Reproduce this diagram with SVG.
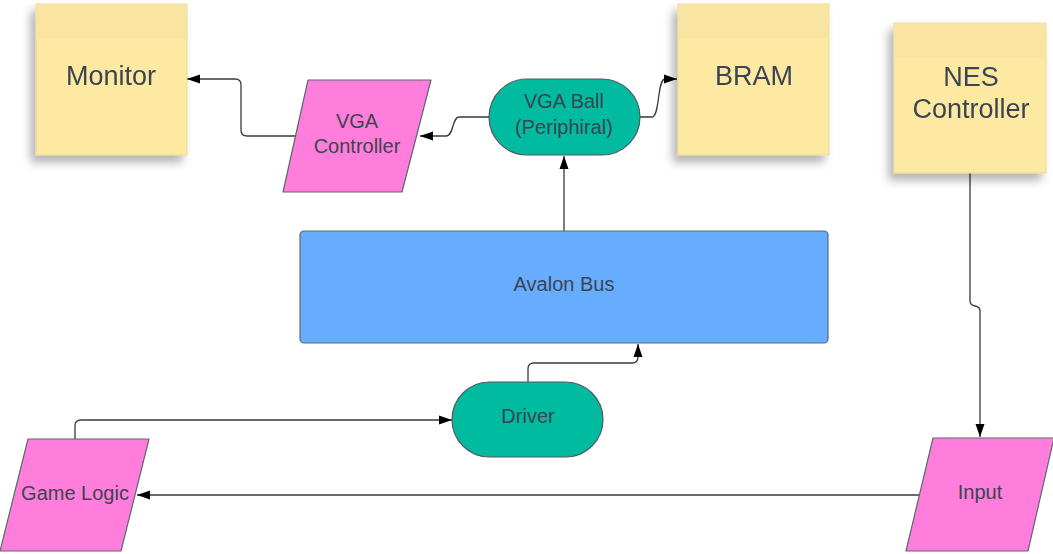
<svg xmlns="http://www.w3.org/2000/svg" width="1053" height="554" viewBox="0 0 1053 554">
<style>
.t{font-family:"Liberation Sans",Arial,sans-serif;fill:#3b4450;text-anchor:middle}
.big{font-size:27px}
.sm{font-size:20px}
.note{fill:#fee9a3;stroke:#e6d28e;stroke-width:0.8}
.band{fill:#f9e4a1}
.para{fill:#ff7edb;stroke:#5e6670;stroke-width:1.2;stroke-linejoin:round}
.pill{fill:#00bba0;stroke:#4f5a60;stroke-width:1.2}
.bus{fill:#66adff;stroke:#5e6670;stroke-width:1.2}
.c{fill:none;stroke:#3a3a3a;stroke-width:1.3}
</style>
<defs>
<marker id="ah" markerUnits="userSpaceOnUse" markerWidth="14" markerHeight="10" refX="13" refY="5" orient="auto">
<path d="M0,0.5 L13,5 L0,9.5 Z" fill="#000"/>
</marker>
<filter id="sh" x="-20%" y="-20%" width="140%" height="150%">
<feGaussianBlur in="SourceAlpha" stdDeviation="5"/>
<feOffset dx="-5" dy="7" result="b"/>
<feFlood flood-color="#000" flood-opacity="0.3"/>
<feComposite in2="b" operator="in"/>
<feMerge><feMergeNode/><feMergeNode in="SourceGraphic"/></feMerge>
</filter>
</defs>

<g id="connectors">
<path class="c" d="M296,136 L247,136 Q241,136 241,130 L241,85 Q241,79 235,79 L187,79" marker-end="url(#ah)"/>
<path class="c" d="M489,117 L459,117 C452,117 454,136 446,136 L420,136" marker-end="url(#ah)"/>
<path class="c" d="M640,117 L652,117 C660,117 657,79 665,79 L677,79" marker-end="url(#ah)"/>
<path class="c" d="M564,231 L564,156" marker-end="url(#ah)"/>
<path class="c" d="M970,173 L970,301 Q970,305 975,306 Q980,307 980,311 L980,437" marker-end="url(#ah)"/>
<path class="c" d="M920,495 L137,495" marker-end="url(#ah)"/>
<path class="c" d="M75,439 L75,426 Q75,420 81,420 L452,420" marker-end="url(#ah)"/>
<path class="c" d="M528,382 L528,369 Q528,363 534,363 L632,363 Q638,363 638,357 L638,344" marker-end="url(#ah)"/>
</g>

<g id="monitor" filter="url(#sh)">
<rect class="note" x="36" y="4" width="151" height="151"/>
<rect class="band" x="36.5" y="4.5" width="150" height="34"/>
<text class="t big" x="111" y="85">Monitor</text>
</g>

<g id="bram" filter="url(#sh)">
<rect class="note" x="678" y="4" width="151" height="151"/>
<rect class="band" x="678.5" y="4.5" width="150" height="34"/>
<text class="t big" x="754" y="85">BRAM</text>
</g>

<g id="nes-controller" filter="url(#sh)">
<rect class="note" x="894" y="23" width="152" height="150"/>
<rect class="band" x="894.5" y="23.5" width="151" height="34"/>
<text class="t big" x="971" y="86">NES</text>
<text class="t big" x="971" y="118">Controller</text>
</g>

<g id="vga-controller">
<path class="para" d="M308,80 L431,80 L402,192 L283,192 Z"/>
<text class="t sm" x="357" y="128">VGA</text>
<text class="t sm" x="357" y="153">Controller</text>
</g>

<g id="vga-ball">
<rect class="pill" x="489" y="79" width="151" height="76" rx="38" ry="38"/>
<text class="t sm" x="564" y="108">VGA Ball</text>
<text class="t sm" x="564" y="134">(Periphiral)</text>
</g>

<g id="avalon-bus">
<rect class="bus" x="300" y="231" width="528" height="112" rx="4" ry="4"/>
<text class="t sm" x="564" y="291">Avalon Bus</text>
</g>

<g id="driver">
<rect class="pill" x="452" y="382" width="151" height="75" rx="37.5" ry="37.5"/>
<text class="t sm" x="528" y="423">Driver</text>
</g>

<g id="game-logic">
<path class="para" d="M28,439 L149,439 L121,551 L0,551 Z"/>
<text class="t sm" x="75" y="500">Game Logic</text>
</g>

<g id="input">
<path class="para" d="M933,438 L1054,438 L1028,551 L906,551 Z"/>
<text class="t sm" x="980" y="499">Input</text>
</g>
</svg>
